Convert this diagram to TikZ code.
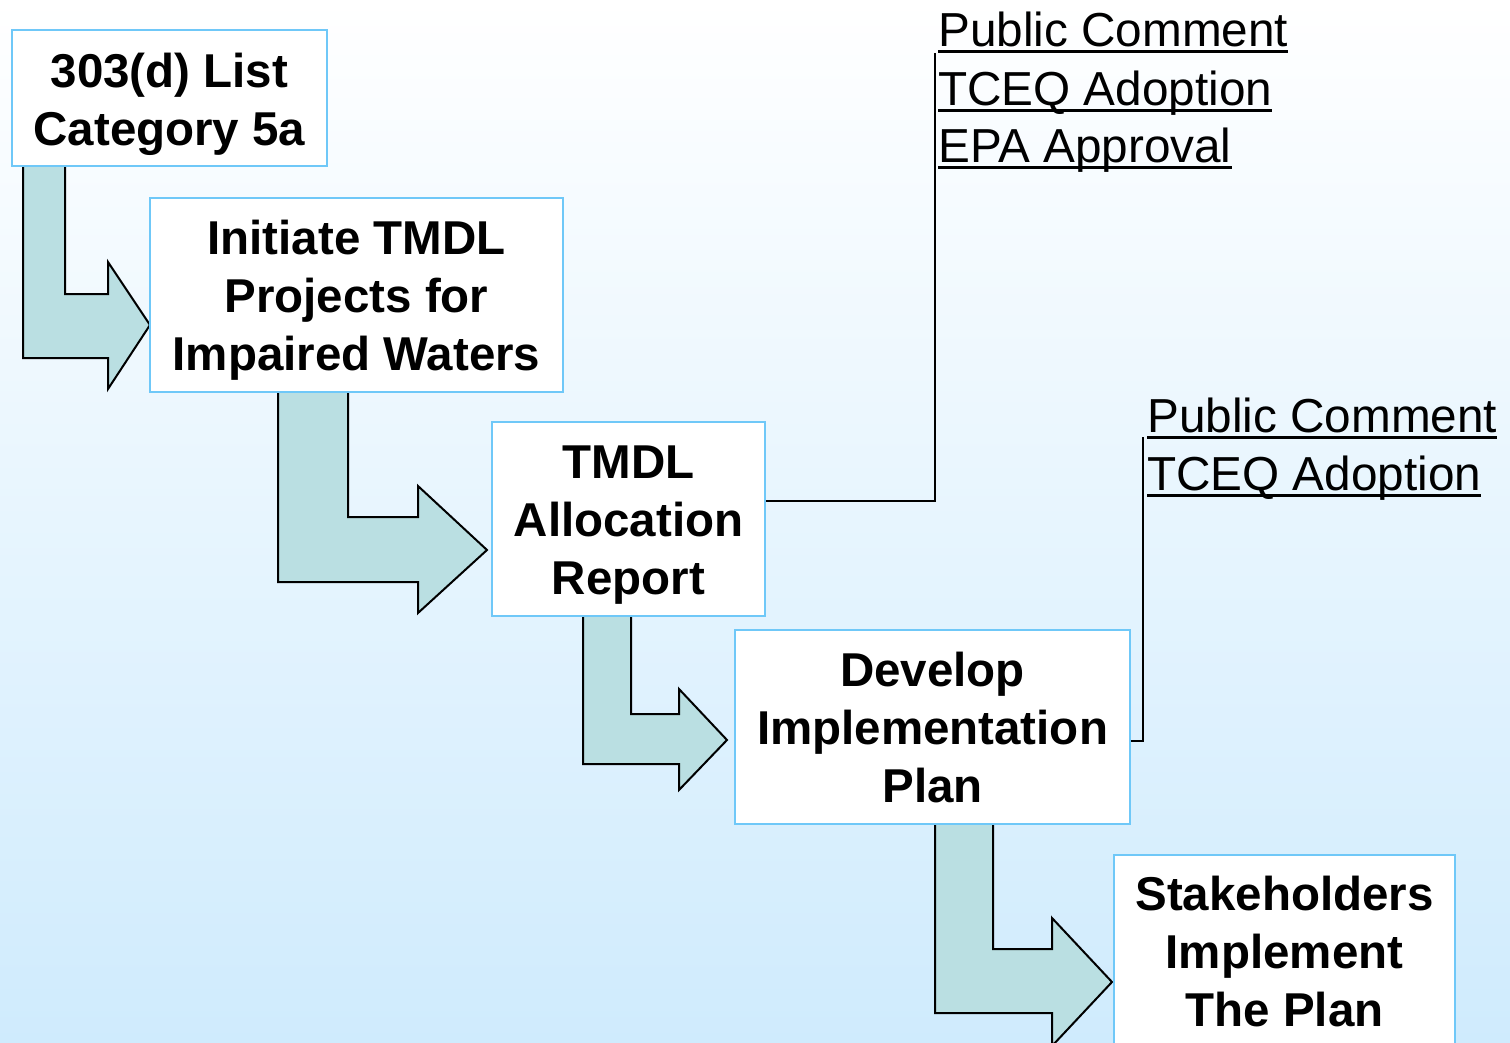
\documentclass[tikz,border=0pt]{standalone}
\usepackage{fontspec}
\setmainfont{Liberation Sans}
\definecolor{bgtop}{HTML}{FFFFFF}
\definecolor{bgbot}{HTML}{CFEBFD}
\definecolor{boxline}{HTML}{6FC8F8}
\definecolor{arrowfill}{HTML}{BADFE2}
\newcommand\ulword[1]{\setbox0\hbox{#1}\rlap{\rule[-6.5pt]{\wd0}{3pt}}\box0}
\tikzset{
  stepbox/.style={draw=boxline, line width=1.6pt, fill=white, inner sep=0pt},
  steptext/.style={inner sep=0pt, align=center,
    font=\fontsize{47.5}{58}\selectfont\bfseries, text=black},
  bentarrow/.style={draw=black, line width=2pt, fill=arrowfill, line join=miter},
  callout/.style={draw=black, line width=2pt},
  note/.style={inner sep=0pt, anchor=base west, font=\fontsize{47.7}{58}\selectfont, text=black}
}
\begin{document}
\begin{tikzpicture}[x=1pt, y=-1pt]
\useasboundingbox (0,0) rectangle (1510,1043);
\shade[top color=bgtop, bottom color=bgbot] (0,0) rectangle (1510,1043);

% bent arrows
\draw[bentarrow] (23,164) -- (23,358) -- (108,358) -- (108,389) -- (150,325) -- (108,262) -- (108,294) -- (65,294) -- (65,164);
\draw[bentarrow] (278,390) -- (278,582) -- (418,582) -- (418,613) -- (487,550) -- (418,486) -- (418,517) -- (348,517) -- (348,390);
\draw[bentarrow] (583,614) -- (583,764) -- (679,764) -- (679,790) -- (727,740) -- (679,689) -- (679,714) -- (631,714) -- (631,614);
\draw[bentarrow] (935,822) -- (935,1013) -- (1052,1013) -- (1052,1046) -- (1112,982) -- (1052,918) -- (1052,949) -- (993,949) -- (993,822);

% boxes
\node[stepbox, minimum width=315pt, minimum height=136pt] (b1) at (169.5,98) {};
\node[stepbox, minimum width=413pt, minimum height=194pt] (b2) at (356.5,295) {};
\node[stepbox, minimum width=273pt, minimum height=194pt] (b3) at (628.5,519) {};
\node[stepbox, minimum width=395pt, minimum height=194pt] (b4) at (932.5,727) {};
\node[stepbox, minimum width=341pt, minimum height=194pt] (b5) at (1284.5,952) {};

\node[steptext] (t1) at ([yshift=-6pt]b1.center) {303(d) List\\Category 5a};
\node[steptext] (t2) at ([yshift=-5pt]b2.center) {Initiate TMDL\\Projects for\\Impaired Waters};
\node[steptext] (t3) at ([yshift=-6pt]b3.center) {TMDL\\Allocation\\Report};
\node[steptext] (t4) at ([yshift=-1pt]b4.center) {Develop\\Implementation\\Plan};
\node[steptext] (t5) at (b5.center) {Stakeholders\\Implement\\The Plan};

% notes
\node[note] (n1) at (938,47) {\ulword{Public Comment}};
\node[note] (n2) at (938,106) {\ulword{TCEQ Adoption}};
\node[note] (n3) at (938,163) {\ulword{EPA Approval}};
\node[note] (m1) at (1147,432) {\ulword{Public Comment}};
\node[note] (m2) at (1147,490) {\ulword{TCEQ Adoption}};

\coordinate (c1) at (934.5,53);
\coordinate (c2) at (1143,437);
\draw[callout] ([yshift=18pt]b3.east) -| (c1);
\draw[callout] ([yshift=-14pt]b4.east) -| (c2);
\end{tikzpicture}
\end{document}
